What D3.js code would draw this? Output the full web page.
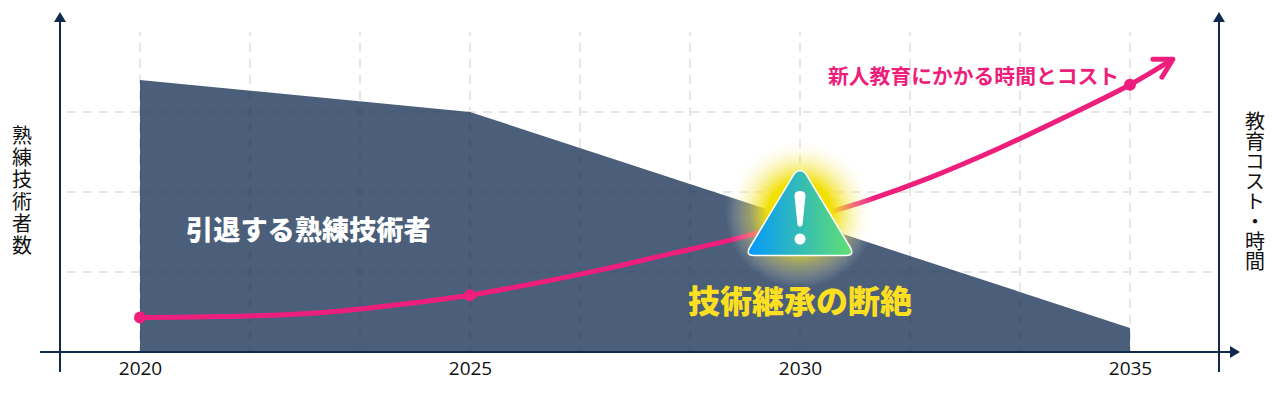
<!DOCTYPE html>
<html lang="ja">
<head>
  <meta charset="UTF-8">
  <title>技術継承の断絶</title>
  <script src="https://cdnjs.cloudflare.com/ajax/libs/d3/7.8.5/d3.min.js"></script>
  <style>
    html, body { margin: 0; padding: 0; background: #fff; }
    svg { display: block; }
    text { font-family: "Noto Sans CJK JP", "Noto Sans", sans-serif; }
    .tick text { font-family: "Open Sans", "Noto Sans", sans-serif; }
  </style>
</head>
<body>
  <div id="graph"></div>

  <script>
    // values, y values in gridline units (one unit = one dashed gap)
    var tickYears = [2020, 2025, 2030, 2035]
    var gridYears = [2020, 2021.667, 2023.333, 2025, 2026.667, 2028.333, 2030, 2031.667, 2033.333, 2035]
    var gridLevels = [1, 2, 3]

    var workerYears = [2020, 2025, 2035]
    var workerValues = [3.4, 3.0, 0.3]

    var costYears = [2020, 2021, 2022, 2023, 2024, 2025, 2026, 2027, 2028, 2029, 2030, 2031, 2032, 2033, 2034, 2035, 2035.65]
    var costValues = [0.43, 0.44, 0.46, 0.51, 0.6, 0.71, 0.86, 1.03, 1.22, 1.41, 1.64, 1.89, 2.19, 2.54, 2.93, 3.34, 3.66]
    var costDots = [2020, 2025, 2035]

    var navy = "#0f2a4d"
    var pink = "#ee1f7c"

    var svg = d3.select("#graph")
      .append("svg")
      .attr("width", 1280)
      .attr("height", 400)

    var x = d3.scaleLinear().domain([2020, 2035]).range([140, 1130])
    var y = d3.scaleLinear().domain([0, 4]).range([352, 32])

    var defs = svg.append("defs")

    var glow = defs.append("radialGradient").attr("id", "glow")
    glow.append("stop").attr("offset", "0%").attr("stop-color", "#f2e000").attr("stop-opacity", 1)
    glow.append("stop").attr("offset", "42%").attr("stop-color", "#f2e000").attr("stop-opacity", 1)
    glow.append("stop").attr("offset", "68%").attr("stop-color", "#f4e85a").attr("stop-opacity", 0.45)
    glow.append("stop").attr("offset", "100%").attr("stop-color", "#ffffff").attr("stop-opacity", 0)

    var warn = defs.append("linearGradient").attr("id", "warn")
    warn.append("stop").attr("offset", "0%").attr("stop-color", "#0598fb")
    warn.append("stop").attr("offset", "100%").attr("stop-color", "#62df72")

    // grid
    svg.append("g").selectAll("line")
      .data(gridYears)
      .join("line")
      .attr("x1", d => x(d))
      .attr("x2", d => x(d))
      .attr("y1", y(4))
      .attr("y2", y(0))
      .style("stroke", "#e6e6e6")
      .style("stroke-width", 2)
      .style("stroke-dasharray", "9 7")
      .style("stroke-dashoffset", 5)

    svg.append("g").selectAll("line")
      .data(gridLevels)
      .join("line")
      .attr("x1", 60)
      .attr("x2", 1218)
      .attr("y1", d => y(d))
      .attr("y2", d => y(d))
      .style("stroke", "#e6e6e6")
      .style("stroke-width", 2)
      .style("stroke-dasharray", "9 7")
      .style("stroke-dashoffset", 9)

    // retiring workers
    var area = d3.area()
      .x((d, i) => x(workerYears[i]))
      .y0(y(0))
      .y1(d => y(d))

    svg.append("path")
      .attr("d", area(workerValues))
      .style("fill", "#0f2a4d")
      .style("fill-opacity", 0.75)

    // training cost
    var line = d3.line()
      .x((d, i) => x(costYears[i]))
      .y(d => y(d))
      .curve(d3.curveCatmullRom)

    svg.append("path")
      .attr("d", line(costValues))
      .style("fill", "none")
      .style("stroke", pink)
      .style("stroke-width", 5)

    var tip = { x: x(costYears[costYears.length - 1]), y: y(costValues[costValues.length - 1]) }
    svg.append("path")
      .attr("d", `M${tip.x - 20},${tip.y} L${tip.x},${tip.y} L${tip.x - 11},${tip.y + 18}`)
      .style("fill", "none")
      .style("stroke", pink)
      .style("stroke-width", 5)
      .style("stroke-linecap", "round")
      .style("stroke-linejoin", "round")

    svg.append("g").selectAll("circle")
      .data(costDots)
      .join("circle")
      .attr("cx", d => x(d))
      .attr("cy", d => y(costValues[costYears.indexOf(d)]))
      .attr("r", 6)
      .style("fill", pink)

    // warning mark at 2030
    var mx = x(2030)
    svg.append("circle")
      .attr("cx", mx)
      .attr("cy", 213)
      .attr("r", 75)
      .style("fill", "url(#glow)")

    svg.append("path")
      .attr("d", `M${mx - 6},174 Q${mx},167 ${mx + 6},174 L${mx + 50},247 Q${mx + 55},255.500 ${mx + 46},255.500 L${mx - 46},255.500 Q${mx - 55},255.500 ${mx - 50},247 Z`)
      .style("fill", "url(#warn)")
      .style("stroke", "#fff")
      .style("stroke-width", 1.5)

    svg.append("path")
      .attr("d", `M${mx - 5.500},196 Q${mx - 5.500},191 ${mx},191 Q${mx + 5.500},191 ${mx + 5.500},196 L${mx + 2.500},225 Q${mx},228 ${mx - 2.500},225 Z`)
      .style("fill", "#fff")

    svg.append("circle")
      .attr("cx", mx)
      .attr("cy", 239)
      .attr("r", 5.500)
      .style("fill", "#fff")

    // axes
    var xAxis = d3.axisBottom(x)
      .tickValues(tickYears)
      .tickFormat(d3.format("d"))
      .tickSize(0)
      .tickPadding(10)

    var xAxisG = svg.append("g")
      .attr("transform", "translate(0,352)")
      .call(xAxis)
    xAxisG.select(".domain").remove()
    xAxisG.selectAll("text")
      .style("font-size", "19px")
      .style("fill", "#111")

    function axisLine(x1, y1, x2, y2) {
      svg.append("line")
        .attr("x1", x1).attr("y1", y1)
        .attr("x2", x2).attr("y2", y2)
        .style("stroke", navy)
        .style("stroke-width", 2)
    }
    axisLine(40, 352, 1230, 352)
    axisLine(60, 20, 60, 372)
    axisLine(1219, 20, 1219, 372)

    svg.append("path").attr("d", "M60,12 L66,22 L54,22 Z").style("fill", navy)
    svg.append("path").attr("d", "M1219,12 L1225,22 L1213,22 Z").style("fill", navy)
    svg.append("path").attr("d", "M1240,352 L1230,346 L1230,358 Z").style("fill", navy)

    // labels
    function label(t, px, py, size, color, weight) {
      return svg.append("text")
        .attr("x", px)
        .attr("y", py)
        .style("font-size", size + "px")
        .style("font-weight", weight)
        .style("fill", color)
        .text(t)
    }

    label("引退する熟練技術者", 186, 240, 27.2, "#fff", 900)
    label("技術継承の断絶", 688, 313, 32, "#fbdf20", 900)
    label("新人教育にかかる時間とコスト", 828, 84, 20.8, pink, 700)

    label("熟練技術者数", 22, 125, 20, "#111", 400)
      .style("letter-spacing", "2px")
      .style("writing-mode", "vertical-rl")
    label("教育コスト・時間", 1255, 111, 20, "#111", 400)
      .style("writing-mode", "vertical-rl")
  </script>
</body>
</html>
